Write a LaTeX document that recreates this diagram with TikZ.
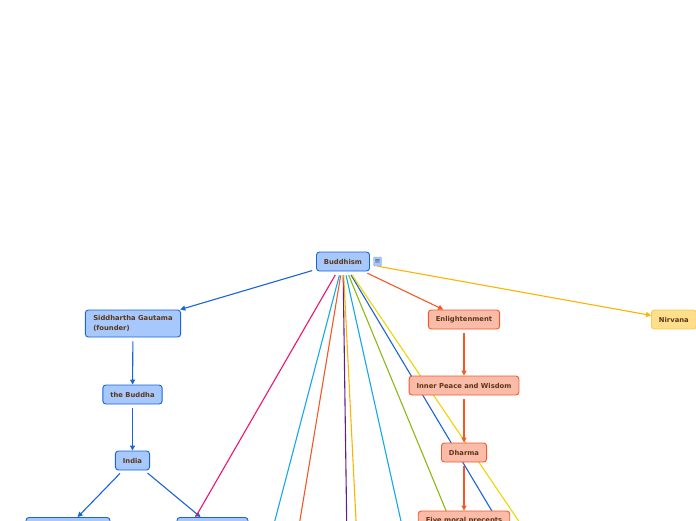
\documentclass[tikz,border=0pt]{standalone}
\usepackage{fontspec}
\setmainfont{DejaVu Sans}
\usepackage{tikz}
\usetikzlibrary{arrows.meta, positioning, backgrounds}
\definecolor{mapblue}{RGB}{25, 100, 215}
\definecolor{mapbluefill}{RGB}{166, 200, 252}
\definecolor{maporange}{RGB}{245, 88, 40}
\definecolor{maporangefill}{RGB}{250, 188, 168}
\definecolor{mapgold}{RGB}{255, 178, 0}
\definecolor{mapgoldline}{RGB}{255, 200, 80}
\definecolor{mapgoldfill}{RGB}{255, 222, 140}
\definecolor{mappink}{RGB}{238, 20, 110}
\definecolor{mapcyan}{RGB}{20, 168, 230}
\definecolor{mappurple}{RGB}{100, 30, 140}
\definecolor{mapgreen}{RGB}{138, 186, 20}
\definecolor{mapyellow}{RGB}{240, 212, 0}
\definecolor{textbrown}{RGB}{90, 55, 25}

\begin{document}
\begin{tikzpicture}[x=1pt, y=-1pt,
  topic/.style={rounded corners=3pt, line width=0.9pt, minimum height=19pt, inner xsep=7.5pt, inner ysep=2pt,
    font=\fontsize{6.8}{8}\selectfont\bfseries, text=textbrown},
  bluebox/.style={topic, draw=mapblue, fill=mapbluefill},
  redbox/.style={topic, draw=maporange, fill=maporangefill},
  goldbox/.style={topic, draw=mapgoldline, fill=mapgoldfill},
  notebox/.style={rounded corners=1pt, draw=mapbluefill!70!mapblue, line width=0.4pt, fill=mapbluefill,
    minimum width=8pt, minimum height=9pt, inner sep=0pt, font=\fontsize{7}{7}\selectfont, text=black!70},
  link/.style={line width=1.1pt, shorten <=4pt, -{Triangle[length=5pt,width=5pt]}}]
  \useasboundingbox (0,0) rectangle (696,520);

  % topics
  \node[bluebox] (buddhism) at (343,261.5) {Buddhism};
  \node[notebox] (notes) at (377.5,261.5) {≡};
  \node[bluebox, align=left, minimum height=27pt, inner xsep=8pt, font=\fontsize{6.8}{9.5}\selectfont\bfseries]
    (siddhartha) at (133,323.5) {Siddhartha Gautama\\(founder)};
  \node[bluebox] (buddha) at (132.5,394.5) {the Buddha};
  \node[bluebox] (india) at (132.5,460.5) {India};
  \node[bluebox, minimum width=84pt] (placeleft) at (68,527) {};
  \node[bluebox, minimum width=71pt] (placeright) at (212.5,527) {};
  \node[redbox] (enlight) at (464,319.5) {Enlightenment};
  \node[redbox] (peace) at (464,385.5) {Inner Peace and Wisdom};
  \node[redbox] (dharma) at (464,452.5) {Dharma};
  \node[redbox] (precepts) at (464,520.5) {Five moral precepts};
  \node[goldbox, anchor=west] (nirvana) at (651,319.5) {Nirvana};

  % branches leaving the page
  \coordinate (branch0) at (147.7,600);
  \coordinate (branch1) at (254,600);
  \coordinate (branch2) at (286.7,600);
  \coordinate (branch3) at (347.8,600);
  \coordinate (branch4) at (360,600);
  \coordinate (branch5) at (418.6,600);
  \coordinate (branch6) at (483,600);
  \coordinate (branch7) at (545,600);
  \coordinate (branch8) at (572.2,600);

  \begin{scope}[on background layer]
    \draw[link, mapblue] (buddhism) -- (siddhartha);
    \draw[link, mapblue] (siddhartha) -- (buddha);
    \draw[link, mapblue] (buddha) -- (india);
    \draw[link, mapblue] (india) -- (placeleft);
    \draw[link, mapblue] (india) -- (placeright);
    \draw[link, mappink] (buddhism) -- (branch0);
    \draw[link, mapcyan] (buddhism) -- (branch1);
    \draw[link, maporange] (buddhism) -- (branch2);
    \draw[link, mappurple] (buddhism) -- (branch3);
    \draw[link, mapgold] (buddhism) -- (branch4);
    \draw[link, mapcyan] (buddhism) -- (branch5);
    \draw[link, mapgreen] (buddhism) -- (branch6);
    \draw[link, mapblue] (buddhism) -- (branch7);
    \draw[link, mapyellow] (buddhism) -- (branch8);
    \draw[link, maporange] (buddhism) -- (enlight);
    \draw[link, maporange] (enlight) -- (peace);
    \draw[link, maporange] (peace) -- (dharma);
    \draw[link, maporange] (dharma) -- (precepts);
    \draw[link, mapgold, shorten <=0pt] (notes.south) -- (nirvana);
  \end{scope}
\end{tikzpicture}
\end{document}
